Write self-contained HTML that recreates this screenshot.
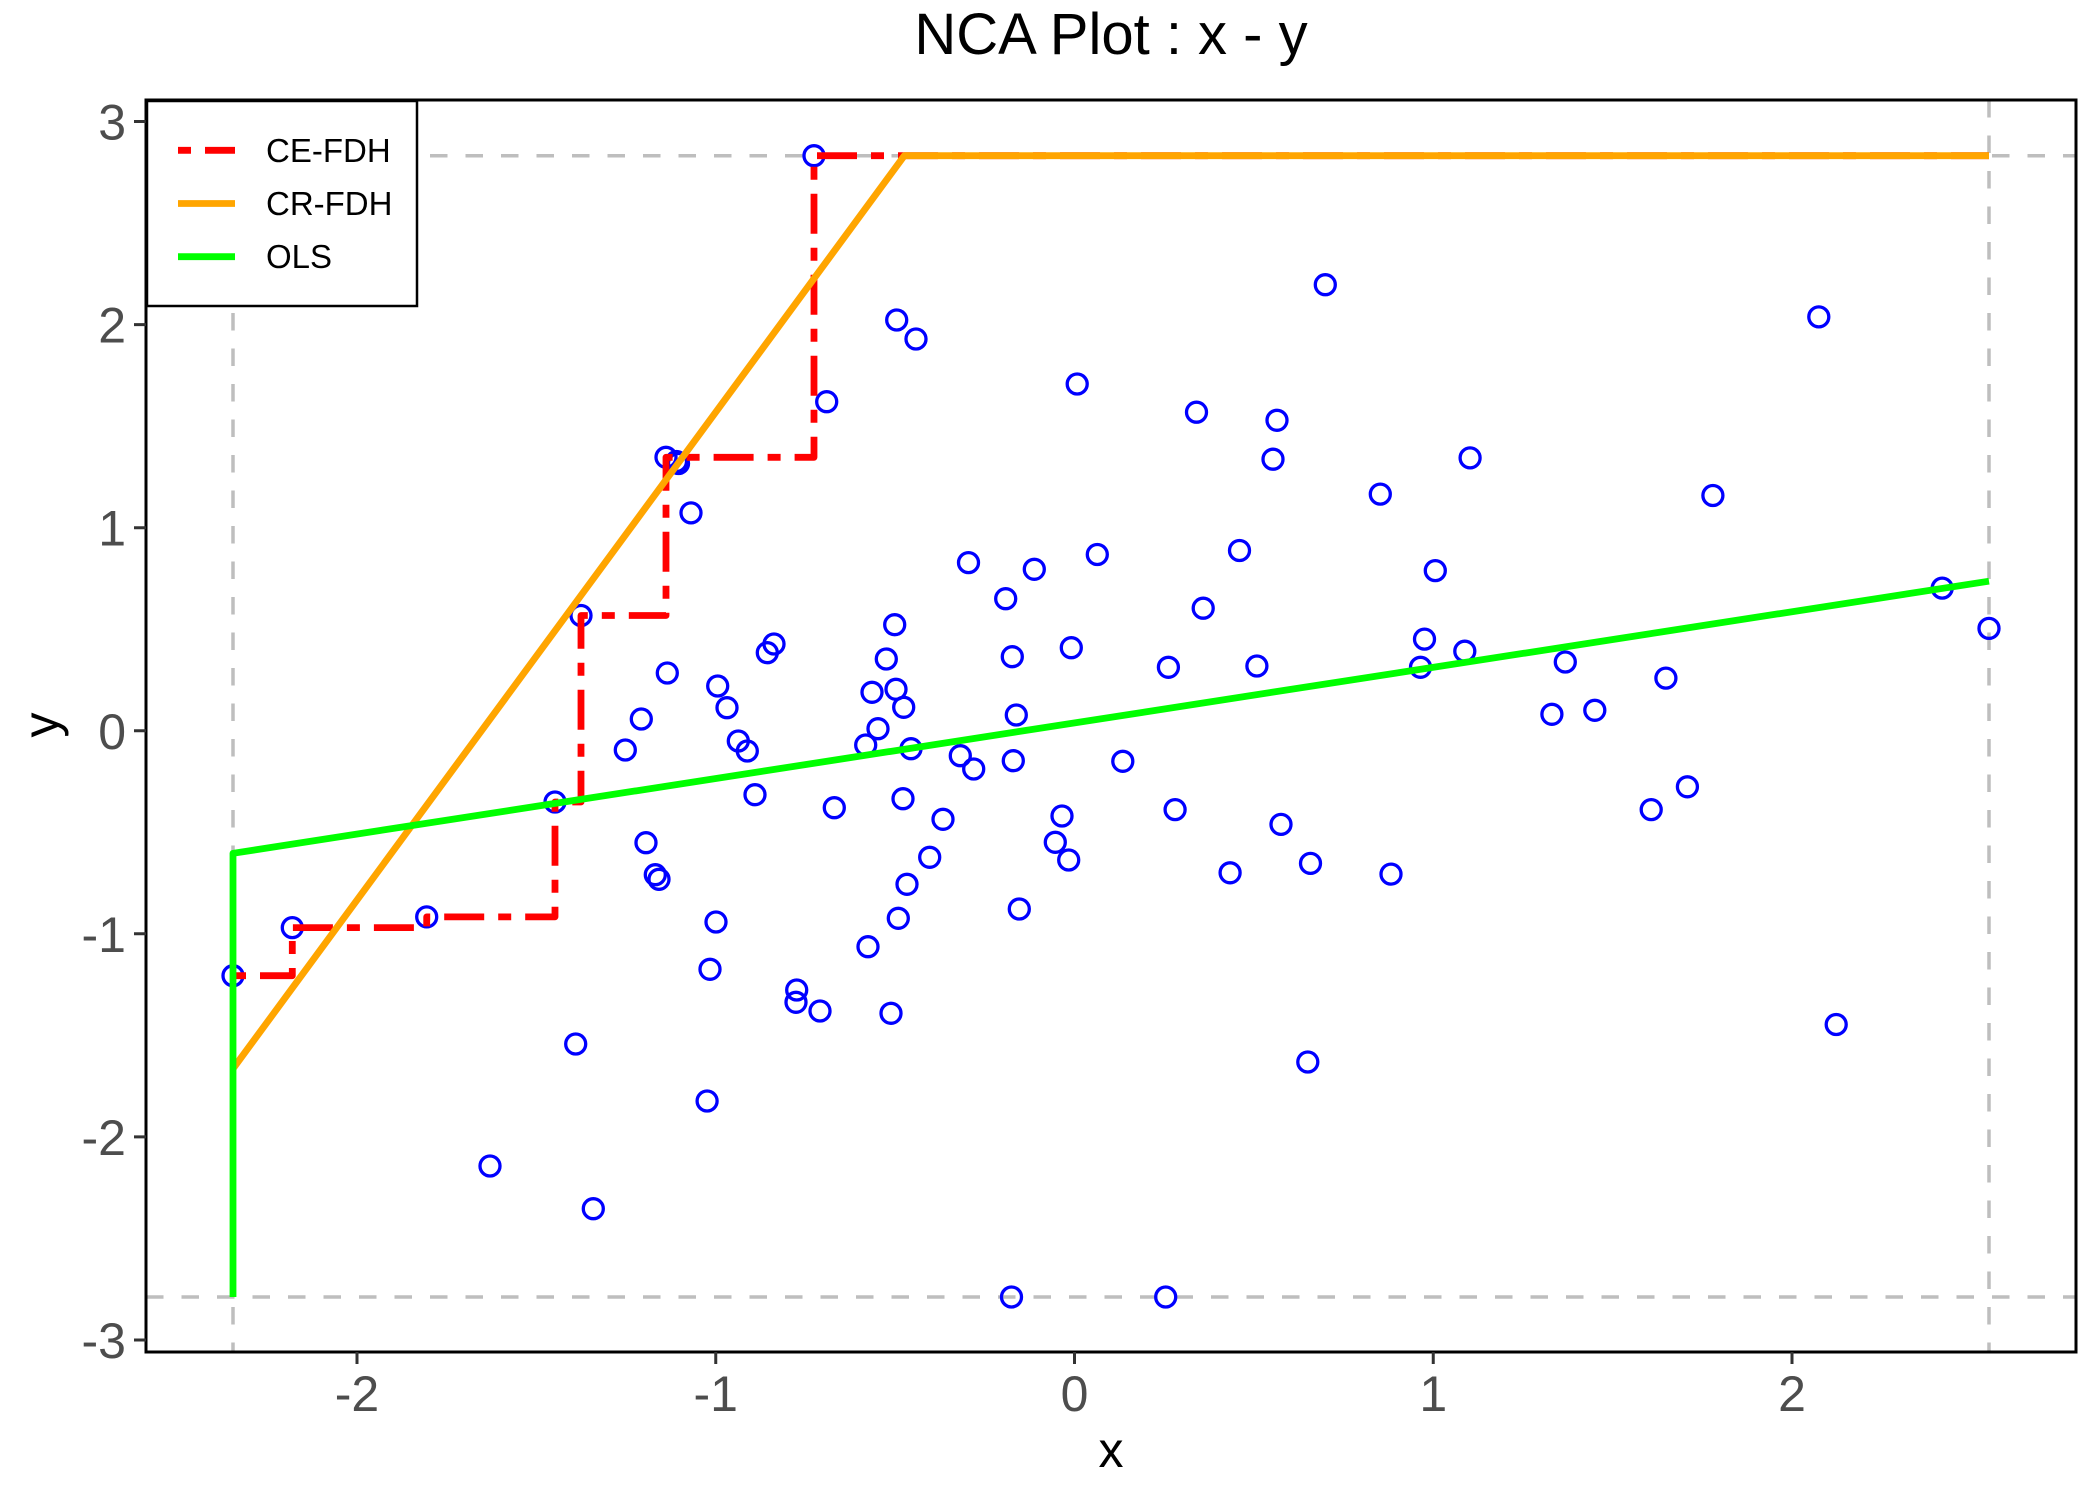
<!DOCTYPE html>
<html>
<head>
<meta charset="utf-8">
<style>
html,body{margin:0;padding:0;background:#fff;}
svg{display:block;}
text{font-family:"Liberation Sans",Arial,sans-serif;}
</style>
</head>
<body>
<svg width="2100" height="1499" viewBox="0 0 2100 1499" xmlns="http://www.w3.org/2000/svg">
<rect x="0" y="0" width="2100" height="1499" fill="#fff"/>
<defs>
<clipPath id="pc"><rect x="146" y="100" width="1930" height="1252"/></clipPath>
<marker id="pt" markerWidth="26" markerHeight="26" refX="13" refY="13" markerUnits="userSpaceOnUse" overflow="visible">
<circle cx="13" cy="13" r="10" fill="none" stroke="#0000FF" stroke-width="3.3"/>
</marker>
</defs>

<text x="1111" y="54" font-size="58" text-anchor="middle" fill="#000">NCA Plot : x - y</text>

<g clip-path="url(#pc)">
<g stroke="#BEBEBE" stroke-width="3.5" stroke-dasharray="17.5 18" fill="none">
<line x1="146" y1="155.7" x2="2076" y2="155.7"/>
<line x1="146" y1="1297" x2="2076" y2="1297"/>
<line x1="233" y1="100" x2="233" y2="1352"/>
<line x1="1989" y1="100" x2="1989" y2="1352"/>
</g>

<polyline fill="none" stroke="none" marker-start="url(#pt)" marker-mid="url(#pt)" marker-end="url(#pt)"
points="233,975.7 292.3,927.6 426.7,916.9 490,1166 555,802 575.7,1044 581,615.5 593.3,1208.7 625.3,750 641.3,719 646,842.7 655.3,874.7 659,879.3 666,457.3 676.5,461.5 678.5,463.5 667.3,673 691,512.9 707.1,1101 710,969.3 716,922 717.7,686 727,707.7 738.3,741 747.3,751 755,794.7 767.3,652.7 774,644 796.7,990 796,1002.3 814,155.7 820,1011 826.7,401.7 834.3,807.7 865.7,745 868,946.7 872,692.3 878,728.7 886.3,659 891,1013.3 894.7,624.7 896,689.3 896.7,320 898.3,918.3 903,798.7 903.7,707.3 907,884.3 911,748.7 916,339 929.7,857.3 943,819.3 960.3,755.7 968.5,562.6 973.7,769 1005.7,598.7 1011.5,1297 1012.3,656.7 1013.3,760.7 1016.3,715 1019.3,909 1034.3,569.3 1055.3,842.3 1062,816 1068.7,860 1071.3,647.7 1077.2,384 1097.3,554.5 1122.8,761.3 1165.7,1297 1168.4,667.3 1175.1,809.6 1196.5,412.2 1203.2,608.2 1230.1,872.8 1239.5,550.5 1256.9,666 1273,459.2 1277,420.3 1281,824.4 1307.8,1062 1310.5,863.4 1325.3,284.7 1380.3,494.1 1391,874.1 1420.5,667.3 1424.5,639.1 1435.3,570.6 1464.8,651.2 1470.1,457.9 1551.9,714.3 1565.3,662 1594.8,710.3 1651.2,809.6 1665.9,678.1 1687.4,786.8 1712.9,495.5 1818.8,316.9 1836.2,1024.5 1942.2,588.1 1989,628.4"/>

<path d="M233,975.7 H292.3 V927.6 H426.7 V916.9 H555 V802 H581 V615.5 H666 V457.3 H814 V155.7 H1989" fill="none" stroke="#FF0000" stroke-width="6.8" stroke-dasharray="13 14 40 14" stroke-linejoin="round"/>
<path d="M233,1068.7 L904.3,155.7 H1989" fill="none" stroke="#FFA500" stroke-width="6.8" stroke-linejoin="round"/>
<path d="M233,1297 V853.3 L1989,581.2" fill="none" stroke="#00FF00" stroke-width="6.8" stroke-linejoin="round"/>
</g>

<rect x="146" y="100" width="1930" height="1252" fill="none" stroke="#000" stroke-width="3"/>

<path stroke="#333" stroke-width="3" fill="none" d="M134,121.5H146M134,324.6H146M134,527.7H146M134,730.75H146M134,933.8H146M134,1136.9H146M134,1340H146M357,1352V1364M715.75,1352V1364M1074.5,1352V1364M1433.25,1352V1364M1792,1352V1364"/>

<g font-size="50" fill="#4D4D4D" text-anchor="end">
<text x="126" y="139.5">3</text>
<text x="126" y="342.6">2</text>
<text x="126" y="545.7">1</text>
<text x="126" y="748.75">0</text>
<text x="126" y="951.8">-1</text>
<text x="126" y="1154.9">-2</text>
<text x="126" y="1358">-3</text>
</g>
<g font-size="50" fill="#4D4D4D" text-anchor="middle">
<text x="357" y="1411">-2</text>
<text x="715.75" y="1411">-1</text>
<text x="1074.5" y="1411">0</text>
<text x="1433.25" y="1411">1</text>
<text x="1792" y="1411">2</text>
</g>

<text x="1111" y="1467" font-size="50" text-anchor="middle" fill="#000">x</text>
<text transform="translate(58,725) rotate(-90)" font-size="50" text-anchor="middle" fill="#000">y</text>

<rect x="147" y="101" width="270" height="205" fill="#fff" stroke="#000" stroke-width="2.5"/>
<line x1="178" y1="150.3" x2="235" y2="150.3" stroke="#FF0000" stroke-width="6.8" stroke-dasharray="13 14 40 14"/>
<line x1="178" y1="203.5" x2="235" y2="203.5" stroke="#FFA500" stroke-width="6.8"/>
<line x1="178" y1="256.7" x2="235" y2="256.7" stroke="#00FF00" stroke-width="6.8"/>
<g font-size="33" fill="#000">
<text x="266" y="162">CE-FDH</text>
<text x="266" y="215">CR-FDH</text>
<text x="266" y="268">OLS</text>
</g>
</svg>
</body>
</html>
